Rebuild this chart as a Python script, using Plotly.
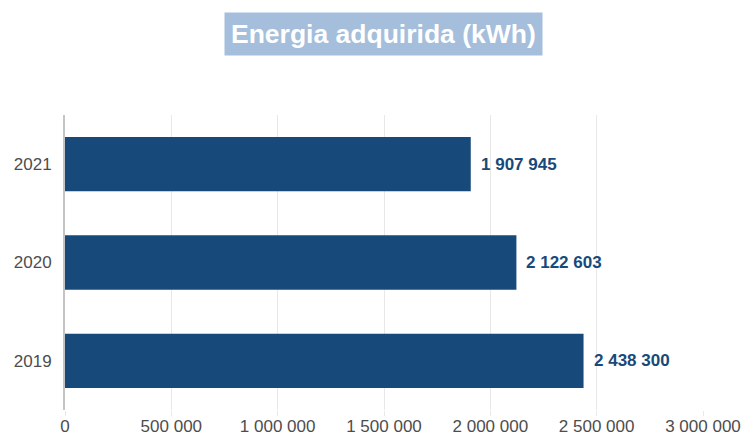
import plotly.graph_objects as go

years = ["2019", "2020", "2021"]
energy_kwh = [2438300, 2122603, 1907945]
x_ticks = [0, 500000, 1000000, 1500000, 2000000, 2500000, 3000000]
title_text = "Energia adquirida (kWh)"

BAR = "#174a7a"
FONT = "Liberation Sans, Arial, sans-serif"
W, H = 743, 435
M_L, M_R, M_T, M_B = 65, 40, 115, 25
plot_w = W - M_L - M_R
plot_h = H - M_T - M_B

fig = go.Figure()
fig.add_trace(go.Bar(
    x=energy_kwh, y=years, orientation="h",
    marker=dict(color=BAR, line=dict(width=0)),
    hoverinfo="x+y",
))

# value labels: y given as category index so the category axis maps them
for i, v in enumerate(energy_kwh):
    fig.add_annotation(
        x=v, y=i, xref="x", yref="y",
        text="<b>" + f"{v:,}".replace(",", " ") + "</b>",
        showarrow=False, xanchor="left", yanchor="middle", xshift=8,
        font=dict(family=FONT, size=17, color=BAR),
    )

fig.add_annotation(
    x=(383 - M_L) / plot_w,
    y=(H - M_B - 34) / plot_h, xref="paper", yref="paper",
    text="<b>" + title_text + "</b>", showarrow=False,
    font=dict(family=FONT, size=26.5, color="white"),
    bgcolor="#a4bedb", borderpad=6,
    xanchor="center", yanchor="middle",
)

fig.update_layout(
    width=W, height=H,
    margin=dict(l=M_L, r=M_R, t=M_T, b=M_B, autoexpand=False),
    paper_bgcolor="white", plot_bgcolor="white",
    separators=". ",
    showlegend=False,
    bargap=0.447,
    font=dict(family=FONT, size=17, color="#4d4d4d"),
    xaxis=dict(
        range=[0, 3000000], tickvals=x_ticks, tickformat=",d",
        showgrid=True, gridcolor="#e8e8e8", gridwidth=1,
        ticks="outside", ticklen=5, tickcolor="#e8e8e8",
        ticklabelstandoff=-4,
        zeroline=False, showline=False, automargin=False,
        tickfont=dict(family=FONT, size=17, color="#4d4d4d"),
    ),
    yaxis=dict(
        type="category", categoryorder="array", categoryarray=years,
        range=[-0.5, 2.5],
        showgrid=False, zeroline=False, showline=True,
        linecolor="#c4c4c4", linewidth=2, ticks="", automargin=False,
        ticklabelstandoff=8,
        tickfont=dict(family=FONT, size=17, color="#4d4d4d"),
    ),
)

fig.write_html("out.html", config={"displayModeBar": False},
               post_script="document.body.style.margin='0';")
